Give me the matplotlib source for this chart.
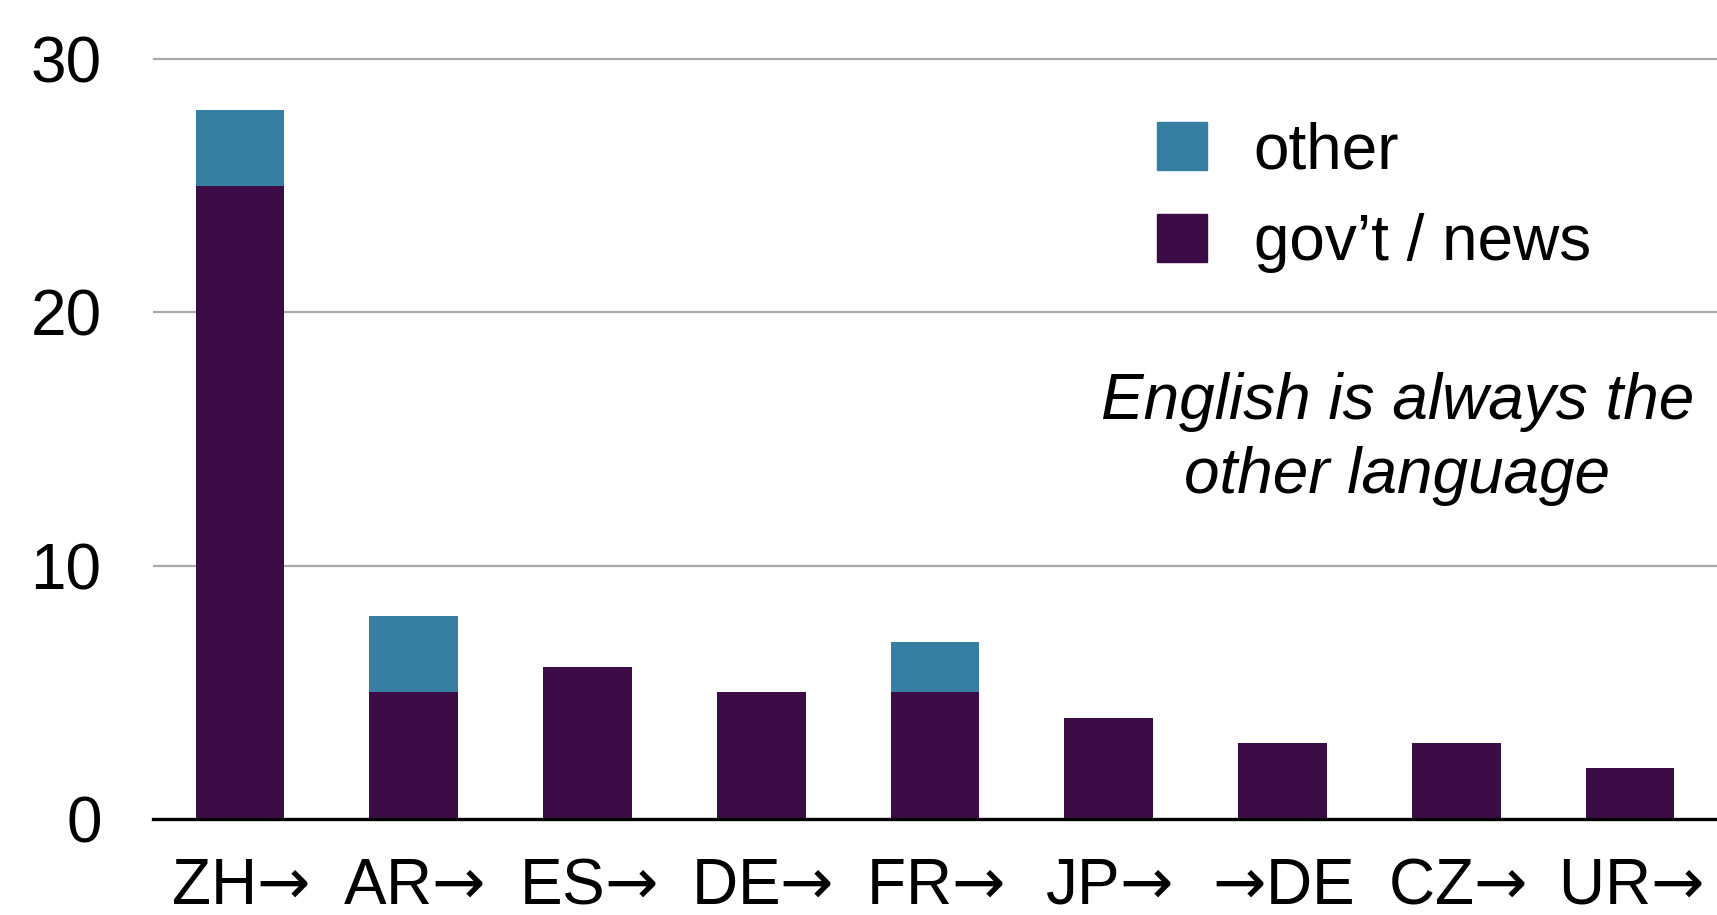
# stacked bar: sentence pairs by source language
import matplotlib
matplotlib.use('Agg')
import matplotlib.pyplot as plt
import matplotlib.patches as mpatches
import numpy as np

plt.rcParams['font.family'] = ['Liberation Sans', 'DejaVu Sans']
plt.rcParams['mathtext.fontset'] = 'dejavusans'

labels = ['ZH$→$', 'AR$→$', 'ES$→$', 'DE$→$', 'FR$→$', 'JP$→$', '$→$DE', 'CZ$→$', 'UR$→$']
gov_news = [25, 5, 6, 5, 5, 4, 3, 3, 2]
other = [3, 3, 0, 0, 2, 0, 0, 0, 0]
yticks = [0, 10, 20, 30]

c_gov = '#3c0c46'
c_other = '#367fa2'
fs = 46

fig = plt.figure(figsize=(17.17, 9.15), dpi=100)
ax = fig.add_axes([0.0891, 0.1049, 0.9109, 0.8581])

x = np.arange(len(labels))
ax.bar(x, gov_news, width=0.51, color=c_gov, zorder=3)
ax.bar(x, other, width=0.51, bottom=gov_news, color=c_other, zorder=3)

ax.set_xlim(-0.5, 8.5)
ax.set_ylim(0, 31)
ax.set_yticks(yticks)
ax.set_yticklabels([str(v) for v in yticks], fontsize=fs)
ax.set_xticks(x)
ax.set_xticklabels(labels, fontsize=fs)
ax.tick_params(axis='y', length=0, pad=37)
ax.tick_params(axis='x', length=0, pad=27)

for v in yticks[1:]:
    ax.axhline(v, color='#aaaaaa', linewidth=1.6, zorder=1)

for s in ['top', 'right', 'left']:
    ax.spines[s].set_visible(False)
ax.spines['bottom'].set_linewidth(2.4)
ax.spines['bottom'].set_zorder(4)

handles = [mpatches.Patch(color=c_other, label='other'),
           mpatches.Patch(color=c_gov, label='gov’t / news')]
fig.legend(handles=handles, loc='upper left', bbox_to_anchor=(0.674, 0.867),
           frameon=False, fontsize=fs, handlelength=0.78, handleheight=0.78,
           handletextpad=0.73, labelspacing=0.49, borderpad=0, borderaxespad=0)

ax.text(6.66, 15, 'English is always the\nother language', fontsize=fs,
        style='italic', ha='center', va='center', linespacing=1.3)

fig.savefig('out.png', dpi=100)
